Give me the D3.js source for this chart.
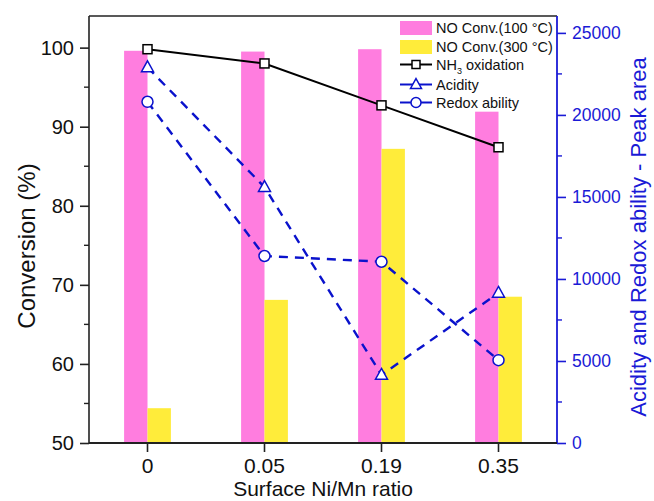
<!DOCTYPE html>
<html><head><meta charset="utf-8">
<script src="https://cdn.jsdelivr.net/npm/d3@7"></script>
<style>body{margin:0;background:#fff}svg{display:block;font-family:"Liberation Sans",Arial,sans-serif}</style>
</head><body><svg id="c" width="654" height="501"></svg>
<script>
const categories = ["0", "0.05", "0.19", "0.35"];
const conv100 = [99.6, 99.5, 99.8, 91.9];
const conv300 = [54.4, 68.1, 87.2, 68.5];
const nh3 = [99.8, 98.0, 92.7, 87.4];
const acidity = [22900, 15600, 4150, 9150];
const redox = [20800, 11400, 11050, 5050];
const leftTicks = [50, 60, 70, 80, 90, 100];
const rightTicks = [0, 5000, 10000, 15000, 20000, 25000];

const svg = d3.select("#c");
const L = 89, R = 557, T = 16, B = 443;
const x = d3.scaleBand().domain(categories).range([L, R]).padding(0);
const yL = d3.scaleLinear().domain([50, 104]).range([B, T]);
const yR = d3.scaleLinear().domain([0, 26030]).range([B, T]);
const pink = "#ff7ddf", yellow = "#ffec3a", blue = "#0a12cc", axBlue = "#1a1ad6";
const bw = x.bandwidth() * 0.2;
const cx = d => x(d) + x.bandwidth() / 2;

// bars
svg.append("g").selectAll("rect").data(categories).join("rect")
  .attr("x", d => cx(d) - bw).attr("width", bw)
  .attr("y", (d, i) => yL(conv100[i])).attr("height", (d, i) => B - yL(conv100[i]))
  .attr("fill", pink);
svg.append("g").selectAll("rect").data(categories).join("rect")
  .attr("x", d => cx(d)).attr("width", bw)
  .attr("y", (d, i) => yL(conv300[i])).attr("height", (d, i) => B - yL(conv300[i]))
  .attr("fill", yellow);

// frame top
svg.append("line").attr("x1", L).attr("x2", R).attr("y1", T).attr("y2", T).attr("stroke", "#222").attr("stroke-width", 1.6);

// lines
const lineL = d3.line().x((d, i) => cx(categories[i])).y(d => yL(d));
const lineR = d3.line().x((d, i) => cx(categories[i])).y(d => yR(d));
svg.append("path").attr("d", lineL(nh3)).attr("fill", "none").attr("stroke", "#000").attr("stroke-width", 2);
svg.append("path").attr("d", lineR(acidity)).attr("fill", "none").attr("stroke", blue).attr("stroke-width", 2.4).attr("stroke-dasharray", "9,7");
svg.append("path").attr("d", lineR(redox)).attr("fill", "none").attr("stroke", blue).attr("stroke-width", 2.4).attr("stroke-dasharray", "9,7");

// markers
function square(g, px, py, s) {
  g.append("rect").attr("x", px - s/2).attr("y", py - s/2).attr("width", s).attr("height", s)
   .attr("fill", "#fff").attr("stroke", "#000").attr("stroke-width", 1.5);
}
function tri(g, px, py, s) {
  const h = s * 0.9;
  g.append("path").attr("d", `M${px},${py - h*0.6}L${px + s/2},${py + h*0.4}L${px - s/2},${py + h*0.4}Z`)
   .attr("fill", "#fff").attr("stroke", blue).attr("stroke-width", 1.5);
}
function circ(g, px, py, r) {
  g.append("circle").attr("cx", px).attr("cy", py).attr("r", r)
   .attr("fill", "#fff").attr("stroke", blue).attr("stroke-width", 1.5);
}
const mk = svg.append("g");
categories.forEach((c, i) => {
  square(mk, cx(c), yL(nh3[i]), 9);
  tri(mk, cx(c), yR(acidity[i]), 12);
  circ(mk, cx(c), yR(redox[i]), 5.5);
});

// left axis
const gl = svg.append("g").attr("transform", `translate(${L},0)`)
  .call(d3.axisLeft(yL).tickValues(leftTicks).tickSize(9).tickPadding(6).tickFormat(d3.format("d")));
gl.selectAll(".tick line").attr("stroke", "#222").attr("stroke-width", 1.6);
gl.select(".domain").attr("stroke", "#222").attr("stroke-width", 1.6).attr("d", `M0,${B}V${T}`);
gl.selectAll("text").attr("font-size", 20).attr("fill", "#111").attr("font-family", "Liberation Sans, Arial");
gl.selectAll(".minor").data([55, 65, 75, 85, 95]).join("line").attr("class", "minor")
  .attr("x1", -5).attr("x2", 0).attr("y1", d => yL(d)).attr("y2", d => yL(d)).attr("stroke", "#222").attr("stroke-width", 1.4);

// right axis
const gr = svg.append("g").attr("transform", `translate(${R},0)`)
  .call(d3.axisRight(yR).tickValues(rightTicks).tickSize(9).tickPadding(6).tickFormat(d3.format("d")));
gr.selectAll(".tick line").attr("stroke", axBlue).attr("stroke-width", 1.6);
gr.select(".domain").attr("stroke", axBlue).attr("stroke-width", 1.8).attr("d", `M0,${B}V${T}`);
gr.selectAll("text").attr("font-size", 17.5).attr("fill", axBlue).attr("font-family", "Liberation Sans, Arial");
gr.selectAll(".minor").data([2500, 7500, 12500, 17500, 22500]).join("line").attr("class", "minor")
  .attr("x1", 0).attr("x2", 5).attr("y1", d => yR(d)).attr("y2", d => yR(d)).attr("stroke", axBlue).attr("stroke-width", 1.4);

// bottom axis
const gb = svg.append("g").attr("transform", `translate(0,${B})`)
  .call(d3.axisBottom(x).tickSize(9).tickPadding(6));
gb.selectAll(".tick line").attr("stroke", "#222").attr("stroke-width", 1.6);
gb.select(".domain").attr("stroke", "#222").attr("stroke-width", 1.8).attr("d", `M${L},0H${R}`);
gb.selectAll("text").attr("font-size", 21).attr("fill", "#111").attr("font-family", "Liberation Sans, Arial");

// axis titles
svg.append("text").attr("transform", "translate(35,246) rotate(-90)").attr("text-anchor", "middle")
  .attr("font-size", 24).attr("fill", "#111").text("Conversion (%)");
svg.append("text").attr("x", 323).attr("y", 496).attr("text-anchor", "middle")
  .attr("font-size", 21).attr("fill", "#111").text("Surface Ni/Mn ratio");
svg.append("text").attr("transform", "translate(646,237) rotate(-90)").attr("text-anchor", "middle")
  .attr("font-size", 22).attr("fill", axBlue).text("Acidity and Redox ability - Peak area");

// legend
const lg = svg.append("g").attr("font-size", 14.5).attr("fill", "#111");
const lx = 400, sw = 32, tx = 436;
const rows = [28, 47, 64.5, 84.5, 102.5];
lg.append("rect").attr("x", lx).attr("y", rows[0] - 7).attr("width", sw).attr("height", 14).attr("fill", pink);
lg.append("text").attr("x", tx).attr("y", rows[0] + 5).text("NO Conv.(100 °C)");
lg.append("rect").attr("x", lx).attr("y", rows[1] - 7).attr("width", sw).attr("height", 14).attr("fill", yellow);
lg.append("text").attr("x", tx).attr("y", rows[1] + 5).text("NO Conv.(300 °C)");
lg.append("line").attr("x1", lx).attr("x2", lx + sw).attr("y1", rows[2]).attr("y2", rows[2]).attr("stroke", "#000").attr("stroke-width", 2);
square(lg, lx + sw/2, rows[2], 8);
const t3 = lg.append("text").attr("x", tx).attr("y", rows[2] + 5);
t3.append("tspan").text("NH");
t3.append("tspan").attr("font-size", 9).attr("dy", 4).text("3");
t3.append("tspan").attr("dy", -4).text(" oxidation");
lg.append("line").attr("x1", lx).attr("x2", lx + sw).attr("y1", rows[3]).attr("y2", rows[3]).attr("stroke", blue).attr("stroke-width", 2);
tri(lg, lx + sw/2, rows[3], 11);
lg.append("text").attr("x", tx).attr("y", rows[3] + 5).text("Acidity");
lg.append("line").attr("x1", lx).attr("x2", lx + sw).attr("y1", rows[4]).attr("y2", rows[4]).attr("stroke", blue).attr("stroke-width", 2);
circ(lg, lx + sw/2, rows[4], 5);
lg.append("text").attr("x", tx).attr("y", rows[4] + 5).text("Redox ability");
</script></body></html>
